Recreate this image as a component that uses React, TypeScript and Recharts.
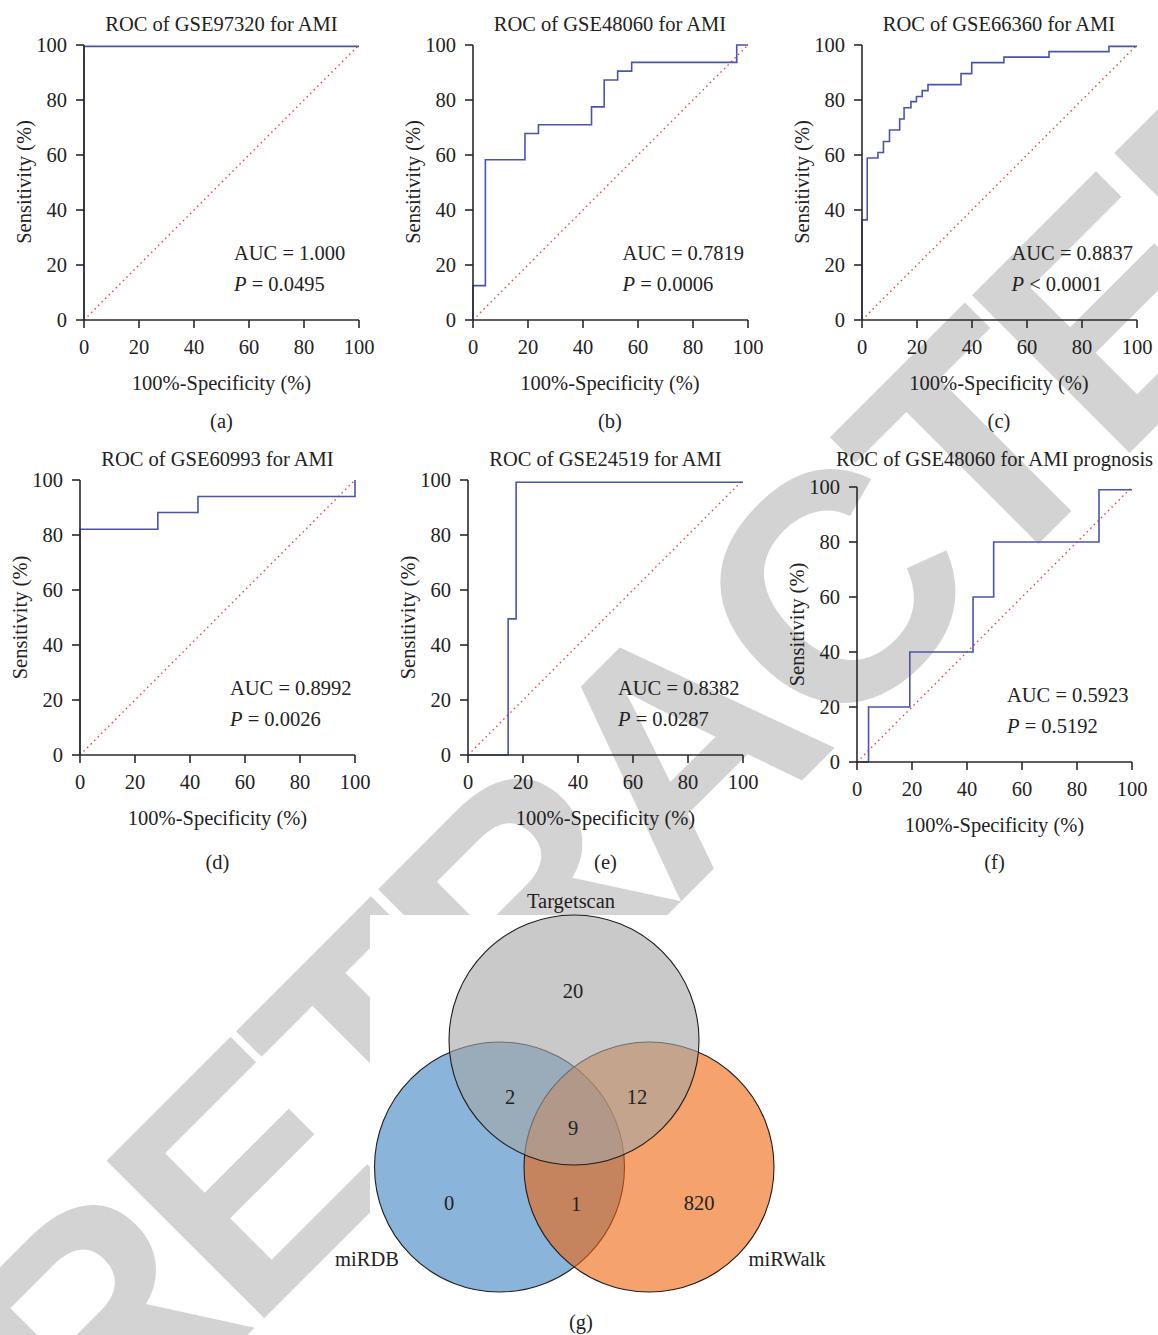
import { LineChart, Line, XAxis, YAxis, ScatterChart, Scatter } from 'recharts'

// ROC curves, [100%-specificity, sensitivity] at each corner of the step line
const rocGSE97320: [number, number][] = [[0, 0], [0, 99.5], [100, 99.5]]
const rocGSE48060: [number, number][] = [
  [0, 0], [0, 12.5], [4.5, 12.5], [4.5, 58.3], [18.9, 58.3], [18.9, 67.8], [23.8, 67.8], [23.8, 71],
  [43.1, 71], [43.1, 77.5], [47.7, 77.5], [47.7, 87.3], [52.6, 87.3], [52.6, 90.5], [57.7, 90.5],
  [57.7, 93.7], [95.9, 93.7], [95.9, 100], [100, 100],
]
const rocGSE66360: [number, number][] = [
  [0, 0], [0, 36.4], [1.9, 36.4], [1.9, 58.9], [5.8, 58.9], [5.8, 60.9], [7.8, 60.9], [7.8, 64.9],
  [10, 64.9], [10, 69.1], [13.7, 69.1], [13.7, 73.1], [15.3, 73.1], [15.3, 77.2], [17.8, 77.2],
  [17.8, 79.4], [19.8, 79.4], [19.8, 81.3], [21.9, 81.3], [21.9, 83.4], [24, 83.4], [24, 85.6],
  [36, 85.6], [36, 89.6], [39.9, 89.6], [39.9, 93.6], [51.6, 93.6], [51.6, 95.6], [68, 95.6],
  [68, 97.6], [89.8, 97.6], [89.8, 99.5], [100, 99.5],
]
const rocGSE60993: [number, number][] = [
  [0, 0], [0, 82.1], [28.3, 82.1], [28.3, 88.2], [42.9, 88.2], [42.9, 94], [100, 94], [100, 100],
]
const rocGSE24519: [number, number][] = [
  [0, 0], [14.6, 0], [14.6, 49.5], [17.5, 49.5], [17.5, 99.2], [100, 99.2],
]
const rocPrognosis: [number, number][] = [
  [0, 0], [4.2, 0], [4.2, 20], [19.2, 20], [19.2, 40], [42.2, 40], [42.2, 60], [49.7, 60],
  [49.7, 80], [88, 80], [88, 99], [100, 99],
]
const chanceLine = [{ x: 0, y: 0 }, { x: 100, y: 100 }]

const axisTicks = [0, 20, 40, 60, 80, 100]
const titles = [
  'ROC of GSE97320 for AMI', 'ROC of GSE48060 for AMI', 'ROC of GSE66360 for AMI',
  'ROC of GSE60993 for AMI', 'ROC of GSE24519 for AMI', 'ROC of GSE48060 for AMI prognosis',
]
const aucValues = ['1.000', '0.7819', '0.8837', '0.8992', '0.8382', '0.5923']
const pValues = ['= 0.0495', '= 0.0006', '< 0.0001', '= 0.0026', '= 0.0287', '= 0.5192']
const panelTags = ['(a)', '(b)', '(c)', '(d)', '(e)', '(f)']

const vennSetNames = ['miRDB', 'miRWalk', 'Targetscan']
const vennCounts = ['20', '2', '12', '9', '0', '1', '820']

const SERIF = '"Liberation Serif", "Times New Roman", serif'
const PLOT = 275
const ML = 70
const MT = 15
const MR = 25
const XH = 40

// where x=0 / y=100 sits for each panel
const plotOrigins = [
  [84, 44.5], [472.5, 44.5], [861.5, 44.5],
  [80, 480], [468, 480], [857, 487],
]
const rocData = [rocGSE97320, rocGSE48060, rocGSE66360, rocGSE60993, rocGSE24519, rocPrognosis]
const titleY = [24, 24, 24, 459, 459, 459]
const tagY = [421, 421, 421, 862, 862, 862]

const panels = rocData.map((pts, i) => ({
  points: pts.map(([x, y]) => ({ x, y })),
  title: titles[i],
  auc: aucValues[i],
  p: pValues[i],
  tag: panelTags[i],
  left: plotOrigins[i][0],
  top: plotOrigins[i][1],
  titleY: titleY[i],
  tagY: tagY[i],
}))

const vennCircles = [
  { name: vennSetNames[0], x: 179.5, y: 287, r: 125, fill: '#3c82c1' },
  { name: vennSetNames[1], x: 329, y: 287, r: 125, fill: '#ef640c' },
  { name: vennSetNames[2], x: 254, y: 160, r: 125, fill: '#a5a5a5' },
]
const vennLabels = [
  { x: 253, y: 111, text: vennCounts[0] },
  { x: 190, y: 217, text: vennCounts[1] },
  { x: 317, y: 217, text: vennCounts[2] },
  { x: 253, y: 248, text: vennCounts[3] },
  { x: 129, y: 323, text: vennCounts[4] },
  { x: 256, y: 324, text: vennCounts[5] },
  { x: 379, y: 323, text: vennCounts[6] },
  { x: 251, y: 21, text: vennSetNames[2] },
  { x: 47, y: 379, text: vennSetNames[0] },
  { x: 467, y: 379, text: vennSetNames[1] },
]

const tickStyle = { fill: '#222', fontSize: 20.5, fontFamily: SERIF }
const axisStroke = { stroke: '#2a2a2a', strokeWidth: 1.6 }

function RocPanel({ p }: { p: (typeof panels)[number] }) {
  return (
    <div style={{ position: 'absolute', left: p.left - ML, top: p.top - MT }}>
      <LineChart width={ML + PLOT + MR} height={MT + PLOT + XH} margin={{ top: MT, right: MR, bottom: 0, left: 0 }}>
        <XAxis
          type="number"
          dataKey="x"
          domain={[0, 100]}
          ticks={axisTicks}
          height={XH}
          tickSize={8}
          tickMargin={11}
          tick={tickStyle}
          axisLine={axisStroke}
          tickLine={axisStroke}
          allowDuplicatedCategory={false}
        />
        <YAxis
          type="number"
          dataKey="y"
          domain={[0, 100]}
          ticks={axisTicks}
          width={ML}
          tickSize={8}
          tickMargin={9}
          tick={tickStyle}
          axisLine={axisStroke}
          tickLine={axisStroke}
        />
        <Line
          data={chanceLine}
          dataKey="y"
          type="linear"
          stroke="#e8413c"
          strokeWidth={1.4}
          strokeDasharray="1.5 3.5"
          dot={false}
          isAnimationActive={false}
        />
        <Line
          data={p.points}
          dataKey="y"
          type="linear"
          stroke="#4a55a8"
          strokeWidth={1.6}
          dot={false}
          isAnimationActive={false}
        />
      </LineChart>
    </div>
  )
}

function CircleShape(props: any) {
  const { cx, cy, payload } = props
  return <circle cx={cx} cy={cy} r={payload.r} fill={payload.fill} fillOpacity={0.6} stroke="#1e1e1e" strokeWidth={1.1} />
}

function LabelShape(props: any) {
  const { cx, cy, payload } = props
  return (
    <text x={cx} y={cy} textAnchor="middle" dominantBaseline="central" fontFamily={SERIF} fontSize={20.5} fill="#222">
      {payload.text}
    </text>
  )
}

export default function App() {
  const txt = { fontFamily: SERIF, fontSize: 20.5, fill: '#222' }
  return (
    <div style={{ position: 'absolute', left: 0, top: 0, width: 1158, height: 1335, background: '#fff', overflow: 'hidden' }}>
      <svg width={1158} height={1335} style={{ position: 'absolute', left: 0, top: 0 }}>
        <text
          x={-986}
          y={1119}
          transform="rotate(-45)"
          fontFamily='"Liberation Sans", Arial, sans-serif'
          fontWeight="bold"
          fontSize={324}
          letterSpacing={-15}
          fill="#d3d3d3"
        >
          RETRACTED
        </text>
      </svg>

      {panels.map((p, i) => (
        <RocPanel key={i} p={p} />
      ))}

      <div style={{ position: 'absolute', left: 370, top: 915, width: 630, height: 420, background: '#fff' }} />
      <div style={{ position: 'absolute', left: 320, top: 880 }}>
        <ScatterChart width={560} height={455} margin={{ top: 0, right: 0, bottom: 0, left: 0 }}>
          <XAxis type="number" dataKey="x" domain={[0, 560]} hide />
          <YAxis type="number" dataKey="y" domain={[0, 455]} reversed hide />
          <Scatter data={vennCircles} shape={CircleShape} isAnimationActive={false} />
          <Scatter data={vennLabels} shape={LabelShape} isAnimationActive={false} />
        </ScatterChart>
      </div>

      <svg width={1158} height={1335} style={{ position: 'absolute', left: 0, top: 0, pointerEvents: 'none' }}>
        {panels.map((p, i) => (
          <g key={i}>
            <text x={p.left + PLOT / 2} y={p.titleY} textAnchor="middle" dominantBaseline="central" {...txt}>
              {p.title}
            </text>
            <text
              x={p.left - 60}
              y={p.top + PLOT / 2}
              textAnchor="middle"
              dominantBaseline="central"
              transform={`rotate(-90 ${p.left - 60} ${p.top + PLOT / 2})`}
              {...txt}
            >
              Sensitivity (%)
            </text>
            <text x={p.left + PLOT / 2} y={p.top + PLOT + 63} textAnchor="middle" dominantBaseline="central" {...txt}>
              100%-Specificity (%)
            </text>
            <text x={p.left + PLOT / 2} y={p.tagY} textAnchor="middle" dominantBaseline="central" {...txt}>
              {p.tag}
            </text>
            <text x={p.left + 150} y={p.top + 208} dominantBaseline="central" {...txt}>
              AUC = {p.auc}
            </text>
            <text x={p.left + 150} y={p.top + 239} dominantBaseline="central" {...txt}>
              <tspan fontStyle="italic">P</tspan> {p.p}
            </text>
          </g>
        ))}
        <text x={581} y={1322} textAnchor="middle" dominantBaseline="central" {...txt}>
          (g)
        </text>
      </svg>
    </div>
  )
}
